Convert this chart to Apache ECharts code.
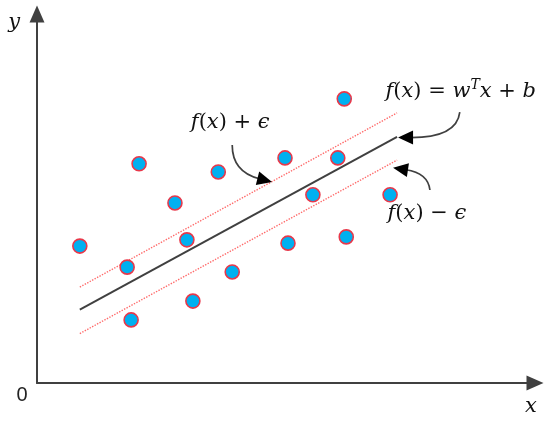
<!DOCTYPE html>
<html><head><meta charset="utf-8">
<script src="https://cdn.jsdelivr.net/npm/echarts@6/dist/echarts.min.js"></script>
<style>html,body{margin:0;padding:0;background:#fff}#c{width:550px;height:422px}</style>
</head><body><div id="c"></div>
<script>
// scatter sample values (data units, axes 0..100)
const pointsX = [8.6, 20.5, 18.1, 18.9, 27.7, 30.1, 31.3, 36.4, 39.2, 49.8, 50.4, 55.4, 60.4, 61.7, 62.1, 70.9];
const pointsY = [37.1, 59.4, 31.4, 17.1, 48.8, 38.8, 22.2, 57.2, 30.1, 61.0, 37.9, 51.0, 61.0, 77.0, 39.6, 51.0];
// regression line f(x) and the epsilon tube
const lineX = [8.6, 72.3];
const centerLineY = [19.9, 66.7];
const upperLineY = [26.0, 73.2];
const lowerLineY = [13.4, 60.4];
// annotation arrows (data coords): start, control, tip
const arrowStarts = [[39.2, 64.5], [84.9, 73.4], [78.9, 52.3]];
const arrowControls = [[39.2, 57.2], [84.3, 66.5], [78.5, 56.9]];
const arrowTips = [[47.2, 54.5], [72.5, 66.5], [71.5, 58.3]];
// text labels (data coords of centres)
const labelTexts = [
  '{i|f}{u|(}{i|x}{u|) + }{i|ϵ}',
  '{i|f}{u|(}{i|x}{u|) = }{i|w}{s|T}{i|x}{u| + }{i|b}',
  '{i|f}{u|(}{i|x}{u|) − }{i|ϵ}'
];
const labelPos = [[38.8, 70.7], [85.1, 79.1], [78.3, 45.8]];
const axisNames = ['y', 'x'];
const axisNamePos = [[-4.6, 97.8], [99.2, -6.5]];
const originLabel = '0';
const originPos = [-3.0, -3.5];

const chart = echarts.init(document.getElementById('c'), null, {renderer: 'canvas'});
const axisCommon = {
  type: 'value', min: 0, max: 100,
  axisLine: {show: true, symbol: ['none', 'triangle'], symbolSize: [15, 17], lineStyle: {color: '#404040', width: 2}},
  axisTick: {show: false}, axisLabel: {show: false}, splitLine: {show: false}
};
const tube = (ys) => lineX.map((x, i) => [x, ys[i]]);
chart.setOption({
  animation: false,
  grid: {left: 37, right: 15, top: 14, bottom: 39},
  xAxis: axisCommon,
  yAxis: axisCommon,
  series: [
    {type: 'line', data: tube(upperLineY), symbol: 'none', silent: true, z: 2,
     lineStyle: {color: '#ff6a6a', width: 1.4, type: 'dotted'}},
    {type: 'line', data: tube(lowerLineY), symbol: 'none', silent: true, z: 2,
     lineStyle: {color: '#ff6a6a', width: 1.4, type: 'dotted'}},
    {type: 'line', data: tube(centerLineY), symbol: 'none', silent: true, z: 3,
     lineStyle: {color: '#404040', width: 2}},
    {type: 'scatter', data: pointsX.map((x, i) => [x, pointsY[i]]), symbolSize: 14, z: 5,
     itemStyle: {color: '#00b0f0', borderColor: '#e8384a', borderWidth: 1.6, opacity: 1}}
  ]
});

const px = (p) => chart.convertToPixel({gridIndex: 0}, p);
const graphics = [];
const L = 15, W = 14;
for (let k = 0; k < arrowTips.length; k++) {
  const S = px(arrowStarts[k]), C = px(arrowControls[k]), T = px(arrowTips[k]);
  let dx = T[0] - C[0], dy = T[1] - C[1];
  const len = Math.hypot(dx, dy); dx /= len; dy /= len;
  const B = [T[0] - dx * L, T[1] - dy * L];
  const nx = -dy, ny = dx;
  graphics.push({type: 'bezierCurve', silent: true, z: 10,
    shape: {x1: S[0], y1: S[1], x2: B[0] + dx * 2, y2: B[1] + dy * 2, cpx1: C[0], cpy1: C[1]},
    style: {stroke: '#404040', lineWidth: 1.7, fill: null}});
  graphics.push({type: 'polygon', silent: true, z: 11,
    shape: {points: [T, [B[0] + nx * W / 2, B[1] + ny * W / 2], [B[0] - nx * W / 2, B[1] - ny * W / 2]]},
    style: {fill: '#000'}});
}
const serif = '"DejaVu Serif", "Liberation Serif", serif';
const rich = {
  i: {fontFamily: serif, fontStyle: 'italic', fontSize: 21, lineHeight: 26, fill: '#111'},
  u: {fontFamily: serif, fontSize: 21, lineHeight: 26, fill: '#111'},
  s: {fontFamily: serif, fontStyle: 'italic', fontSize: 14, lineHeight: 26, verticalAlign: 'top', fill: '#111'}
};
labelTexts.forEach((t, k) => {
  const P = px(labelPos[k]);
  graphics.push({type: 'text', silent: true, z: 12, x: P[0], y: P[1],
    style: {text: t, rich: rich, align: 'center', verticalAlign: 'middle'}});
});
axisNames.forEach((t, k) => {
  const P = px(axisNamePos[k]);
  graphics.push({type: 'text', silent: true, z: 12, x: P[0], y: P[1],
    style: {text: t, font: 'italic 21px ' + serif, fill: '#111', align: 'center', verticalAlign: 'middle'}});
});
const O = px(originPos);
graphics.push({type: 'text', silent: true, z: 12, x: O[0], y: O[1],
  style: {text: originLabel, font: '20px "Liberation Sans", "Noto Sans", sans-serif', fill: '#222', align: 'center', verticalAlign: 'middle'}});
chart.setOption({graphic: graphics});
</script>
</body></html>
